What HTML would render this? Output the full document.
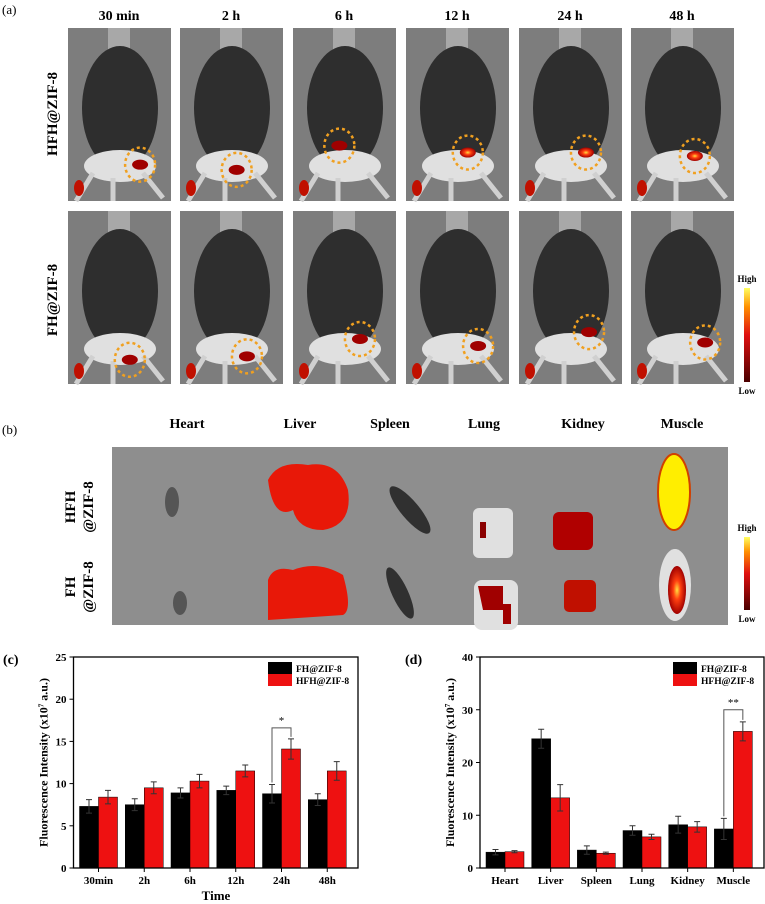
<!DOCTYPE html>
<html><head><meta charset="utf-8"><style>
body{margin:0;background:#fff;width:765px;height:904px;overflow:hidden}
svg{display:block;font-family:"Liberation Serif",serif;font-weight:bold}
</style></head><body>
<svg id="fig" width="765" height="904" viewBox="0 0 765 904">
<defs>
<linearGradient id="cb" x1="0" y1="1" x2="0" y2="0"><stop offset="0" stop-color="#4a0000"/><stop offset="0.5" stop-color="#e01010"/><stop offset="0.8" stop-color="#ff9000"/><stop offset="1" stop-color="#ffff60"/></linearGradient>
<radialGradient id="hot"><stop offset="0" stop-color="#ffe040"/><stop offset="0.4" stop-color="#ff4010"/><stop offset="1" stop-color="#a00000"/></radialGradient>
</defs>
<g id="panelA"></g>
<g id="panelB"></g>
<g id="chartC"></g>
<g id="chartD"></g>
</svg>
<script>
// chart (c) data
const timeCats = ["30min","2h","6h","12h","24h","48h"];
const fhTime = [7.3,7.5,8.9,9.2,8.8,8.1];
const fhTimeErr = [0.8,0.7,0.6,0.5,1.1,0.7];
const hfhTime = [8.4,9.5,10.3,11.5,14.1,11.5];
const hfhTimeErr = [0.8,0.7,0.8,0.7,1.2,1.1];
const yTicksC = [0,5,10,15,20,25];
// chart (d) data
const organCats = ["Heart","Liver","Spleen","Lung","Kidney","Muscle"];
const fhOrgan = [3.0,24.5,3.4,7.1,8.2,7.4];
const fhOrganErr = [0.5,1.8,0.8,0.9,1.6,2.0];
const hfhOrgan = [3.1,13.3,2.8,5.9,7.8,25.9];
const hfhOrganErr = [0.2,2.5,0.2,0.5,1.0,1.8];
const yTicksD = [0,10,20,30,40];
const timeLabels = ["30 min","2 h","6 h","12 h","24 h","48 h"];

const NS="http://www.w3.org/2000/svg";
function mk(parent,tag,attrs,text){const e=document.createElementNS(NS,tag);for(const k in attrs)e.setAttribute(k,attrs[k]);if(text!==undefined)e.textContent=text;parent.appendChild(e);return e;}

// ---------- Panel A ----------
const A=document.getElementById('panelA');
let t=mk(A,'text',{x:2,y:14,'font-size':13,'font-weight':'normal'},'(a)');


const colX=[68,180,293,406,519,631];
const rowY=[28,211];
const H=173;
const spots=[[[0.7,0.79],[0.6,0.86]],[[0.55,0.82],[0.65,0.84]],[[0.45,0.68],[0.65,0.74]],[[0.6,0.72],[0.7,0.78]],[[0.65,0.72],[0.68,0.7]],[[0.62,0.74],[0.72,0.76]]];
for(let c=0;c<6;c++){
  t=mk(A,'text',{x:colX[c]+51,y:20,'font-size':14,'text-anchor':'middle'},timeLabels[c]);
  
  
  for(let r=0;r<2;r++){
    const x=colX[c],y=rowY[r];
    const g=mk(A,'g',{});
    
    
    mk(g,'rect',{x:x,y:y,width:103,height:H,fill:'#7d7d7d'});
    mk(g,'rect',{x:x+40,y:y,width:22,height:25,fill:'#a8a8a8'});
    mk(g,'ellipse',{cx:x+52,cy:y+80,rx:38,ry:62,fill:'#2e2e2e'});
    mk(g,'ellipse',{cx:x+52,cy:y+138,rx:36,ry:16,fill:'#e0e0e0'});
    mk(g,'path',{d:`M${x+25} ${y+145} L${x+8} ${y+H} M${x+75} ${y+145} L${x+95} ${y+170} M${x+45} ${y+150} L${x+45} ${y+H}`,stroke:'#d0d0d0','stroke-width':5});
    const s=spots[c];
    mk(g,'ellipse',{cx:x+103*s[r][0],cy:y+H*s[r][1],rx:8,ry:5,fill:(c>=3&&r==0)?'url(#hot)':'#a00000'});
    mk(g,'ellipse',{cx:x+11,cy:y+160,rx:5,ry:8,fill:'#c01000'});
    mk(g,'ellipse',{cx:x+103*s[r][0],cy:y+H*s[r][1],rx:15,ry:17,fill:'none',stroke:'#f0a020','stroke-width':2.5,'stroke-dasharray':'3 3'});
  }
}
t=mk(A,'text',{transform:'translate(57,114) rotate(-90)','font-size':15,'text-anchor':'middle'},'HFH@ZIF-8');


t=mk(A,'text',{transform:'translate(57,300) rotate(-90)','font-size':15,'text-anchor':'middle'},'FH@ZIF-8');


let cbA=mk(A,'rect',{x:744,y:288,width:6,height:94,fill:'url(#cb)'});


mk(A,'text',{x:747,y:282,'font-size':9,'text-anchor':'middle'},'High');
mk(A,'text',{x:747,y:394,'font-size':9,'text-anchor':'middle'},'Low');

// ---------- Panel B ----------
const B=document.getElementById('panelB');
t=mk(B,'text',{x:2,y:434,'font-size':13,'font-weight':'normal'},'(b)');


let bimg=mk(B,'rect',{x:112,y:447,width:616,height:178,fill:'#8e8e8e'});


const orgX=[187,300,390,484,583,682];
for(let i=0;i<6;i++){
  t=mk(B,'text',{x:orgX[i],y:428,'font-size':14,'text-anchor':'middle'},organCats[i]);
  
  
}
mk(B,'ellipse',{cx:172,cy:502,rx:7,ry:15,fill:'#555'});
mk(B,'ellipse',{cx:180,cy:603,rx:7,ry:12,fill:'#555'});
mk(B,'path',{d:'M268 480 q10-20 40-15 q30-5 40 25 q5 35-25 40 q-25 0-30-20 q-20 10-25-30z',fill:'#e81808'});
mk(B,'path',{d:'M268 620 l0-40 q5-15 25-10 q25-10 50 5 q10 35 0 40z',fill:'#e81808'});
mk(B,'ellipse',{cx:410,cy:510,rx:9,ry:30,transform:'rotate(-40 410 510)',fill:'#303030'});
mk(B,'ellipse',{cx:400,cy:593,rx:8,ry:28,transform:'rotate(-25 400 593)',fill:'#303030'});
mk(B,'rect',{x:473,y:508,width:40,height:50,rx:6,fill:'#e0e0e0'});
mk(B,'rect',{x:480,y:522,width:6,height:16,fill:'#8a0000'});
mk(B,'rect',{x:474,y:580,width:44,height:50,rx:8,fill:'#e0e0e0'});
mk(B,'path',{d:'M478 586 h25 v18 h8 v20 h-8 v-14 h-20z',fill:'#a00000'});
mk(B,'rect',{x:553,y:512,width:40,height:38,rx:6,fill:'#b00000'});
mk(B,'rect',{x:564,y:580,width:32,height:32,rx:5,fill:'#c01000'});
mk(B,'ellipse',{cx:674,cy:492,rx:16,ry:38,fill:'#ffee00',stroke:'#d04000','stroke-width':2});
mk(B,'ellipse',{cx:675,cy:585,rx:16,ry:36,fill:'#e0e0e0'});
mk(B,'ellipse',{cx:677,cy:590,rx:9,ry:24,fill:'url(#hot)'});
mk(B,'text',{transform:'translate(75,507) rotate(-90)','font-size':15,'text-anchor':'middle'},'HFH');
mk(B,'text',{transform:'translate(93,507) rotate(-90)','font-size':15,'text-anchor':'middle'},'@ZIF-8');
mk(B,'text',{transform:'translate(75,587) rotate(-90)','font-size':15,'text-anchor':'middle'},'FH');
mk(B,'text',{transform:'translate(93,587) rotate(-90)','font-size':15,'text-anchor':'middle'},'@ZIF-8');
let cbB=mk(B,'rect',{x:744,y:537,width:6,height:73,fill:'url(#cb)'});


mk(B,'text',{x:747,y:531,'font-size':9,'text-anchor':'middle'},'High');
mk(B,'text',{x:747,y:622,'font-size':9,'text-anchor':'middle'},'Low');

// ---------- bar chart ----------
function barChart(G,o){
  const {left,right,top,bottom,ymax,ticks,cats,a,ae,b,be,label,legX,sig}=o;
  const ys=v=>bottom-(v/ymax)*(bottom-top);
  const gap=(right-left-10)/cats.length;
  const xs=i=>left+6+i*gap;
  const bw=19;
  let e=mk(G,'text',{x:label[1],y:664,'font-size':14},label[0]);
  
  
  ticks.forEach(v=>{
    mk(G,'line',{x1:left-4,x2:left,y1:ys(v),y2:ys(v),stroke:'#000','stroke-width':1});
    e=mk(G,'text',{x:left-7,y:ys(v)+4,'font-size':11,'text-anchor':'end'},v);
    
    
  });
  cats.forEach((c,i)=>{
    const x0=xs(i);
    [[a[i],ae[i],'#000',x0],[b[i],be[i],'#ee1111',x0+bw]].forEach(([v,er,col,bx])=>{
      const r=mk(G,'rect',{x:bx,y:ys(v),width:bw,height:bottom-ys(v),fill:col,stroke:'#000','stroke-width':0.5});
      
      
      const cx=bx+bw/2;
      mk(G,'path',{d:`M${cx} ${ys(v-er)} V${ys(v+er)} M${cx-3} ${ys(v+er)} H${cx+3} M${cx-3} ${ys(v-er)} H${cx+3}`,stroke:'#333','stroke-width':1,fill:'none'});
    });
    mk(G,'line',{x1:x0+bw,x2:x0+bw,y1:bottom,y2:bottom+4,stroke:'#000'});
    e=mk(G,'text',{x:x0+bw,y:bottom+16,'font-size':11,'text-anchor':'middle'},c);
    
    
  });
  const i=sig.idx, x0=xs(i), hy=ys(sig.h);
  mk(G,'path',{d:`M${x0+bw/2} ${ys(a[i]+ae[i])-2} V${hy} H${x0+1.5*bw} V${ys(b[i]+be[i])-2}`,stroke:'#555','stroke-width':1,fill:'none'});
  mk(G,'text',{x:x0+bw,y:hy-4,'font-size':11,'font-weight':'normal','text-anchor':'middle'},sig.txt);
  const ax=mk(G,'rect',{x:left,y:top,width:right-left,height:bottom-top,fill:'none',stroke:'#000','stroke-width':1.3});
  
  
  const lg=mk(G,'g',{});
  
  
  mk(lg,'rect',{x:legX,y:662,width:24,height:12,fill:'#000'});
  mk(lg,'rect',{x:legX,y:674,width:24,height:12,fill:'#ee1111'});
  mk(lg,'text',{x:legX+28,y:672,'font-size':9.5},'FH@ZIF-8');
  mk(lg,'text',{x:legX+28,y:684,'font-size':9.5},'HFH@ZIF-8');
  e=mk(G,'text',{transform:`translate(${left-26},${(top+bottom)/2}) rotate(-90)`,'font-size':12,'text-anchor':'middle'},'Fluorescence Intensity (x10');
  mk(e,'tspan',{'font-size':7,dy:-4},'7');
  mk(e,'tspan',{dy:4},' a.u.)');
  
  
}
barChart(document.getElementById('chartC'),{left:73.5,right:358,top:657,bottom:868,ymax:25,ticks:yTicksC,cats:timeCats,a:fhTime,ae:fhTimeErr,b:hfhTime,be:hfhTimeErr,label:['(c)',3],legX:268,sig:{idx:4,h:16.6,txt:'*'}});
barChart(document.getElementById('chartD'),{left:480,right:764,top:657,bottom:868,ymax:40,ticks:yTicksD,cats:organCats,a:fhOrgan,ae:fhOrganErr,b:hfhOrgan,be:hfhOrganErr,label:['(d)',405],legX:673,sig:{idx:5,h:30,txt:'**'}});
const tt=mk(document.getElementById('chartC'),'text',{x:216,y:900,'font-size':13,'text-anchor':'middle'},'Time');


</script>
</body></html>
